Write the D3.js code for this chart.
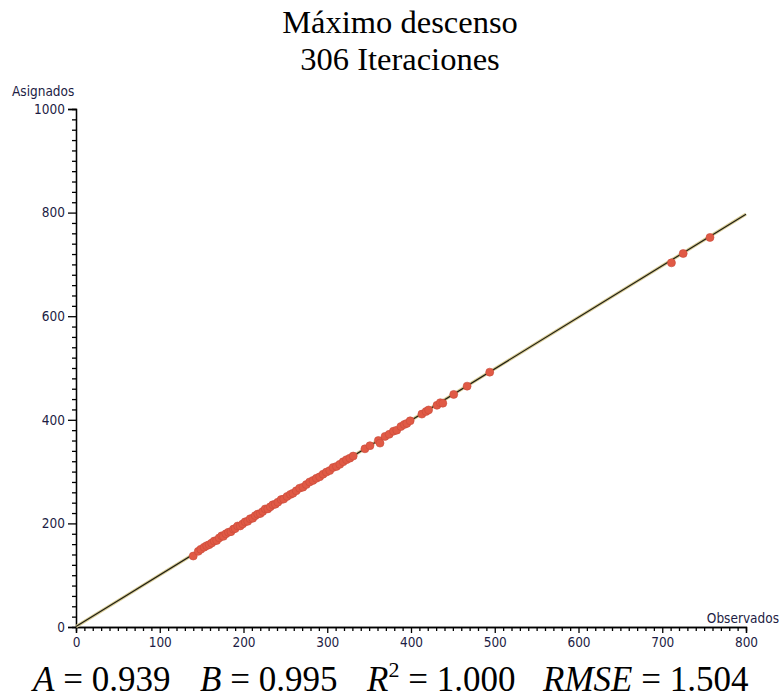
<!DOCTYPE html>
<html>
<head>
<meta charset="utf-8">
<script src="https://cdn.jsdelivr.net/npm/d3@7"></script>
<style>
  body { margin: 0; background: #fff; }
  svg { display: block; }
</style>
</head>
<body>
<svg id="chart" width="781" height="700"></svg>
<script>
// ---------------------------------------------------------------------------
// Data
// ---------------------------------------------------------------------------
const observados = [140, 146, 149, 153, 156, 159, 162, 165, 168, 171, 174, 176, 179, 182, 185, 188,
  190, 193, 196, 199, 202, 205, 208, 211, 214, 217, 220, 223, 226, 229, 232, 235, 238, 241, 245, 248,
  252, 256, 259, 263, 267, 271, 275, 279, 283, 287, 291, 295, 299, 303, 307, 311, 315, 319, 323, 327,
  331, 345, 351, 361, 363, 369, 374, 379, 383, 388, 392, 395, 399, 413, 418, 421, 431, 435, 438, 451,
  467, 494, 711, 725, 757];
const asignados = [137, 146, 150, 154, 157, 159, 162, 166, 167, 172, 176, 175, 180, 183, 184, 189,
  190, 195, 195, 199, 203, 204, 209, 210, 215, 218, 219, 223, 228, 228, 232, 236, 237, 241, 246, 247,
  252, 256, 258, 263, 268, 270, 275, 280, 283, 287, 290, 295, 299, 302, 308, 310, 314, 319, 323, 326,
  330, 344, 350, 360, 355, 368, 372, 378, 380, 387, 391, 393, 398, 411, 416, 419, 428, 433, 432, 449,
  465, 492, 703, 721, 752];

// fitted line  y = A + B x
const coefA = 0.939;
const coefB = 0.995;
const lineX = [0, 800];

const xMajor = [0, 100, 200, 300, 400, 500, 600, 700, 800];
const yMajor = [0, 200, 400, 600, 800, 1000];

const titleLines = ['Máximo descenso', '306 Iteraciones'];

// statistics shown under the chart: italic symbol, superscript, value
const statNames = ['A', 'B', 'R', 'RMSE'];
const statSup = ['', '', '2', ''];
const statValues = ['0.939', '0.995', '1.000', '1.504'];

// ---------------------------------------------------------------------------
// Scales
// ---------------------------------------------------------------------------
const svg = d3.select('#chart');
const x = d3.scaleLinear().domain([0, 800]).range([76, 746]);
const y = d3.scaleLinear().domain([0, 1000]).range([627, 109]);

const tickFont = '"DejaVu Sans Condensed", "Liberation Sans Narrow", sans-serif';
const tickColor = '#1c1c44';
const serif = '"Liberation Serif", "DejaVu Serif", serif';

// ---------------------------------------------------------------------------
// Title
// ---------------------------------------------------------------------------
svg.append('g').selectAll('text')
  .data(titleLines)
  .join('text')
  .attr('x', 400)
  .attr('y', (d, i) => 33 + i * 37)
  .attr('text-anchor', 'middle')
  .attr('font-family', serif)
  .attr('font-size', 32.5)
  .attr('fill', '#000')
  .text(d => d);

// ---------------------------------------------------------------------------
// Axes (major + minor)
// ---------------------------------------------------------------------------
const minorX = d3.range(0, 801, 10).filter(v => v % 100 !== 0);
const minorY = d3.range(0, 1001, 20).filter(v => v % 200 !== 0);

const gx = svg.append('g').attr('transform', `translate(0,${y(0)})`);
gx.append('g').call(d3.axisBottom(x).tickValues(minorX).tickSize(4).tickFormat(''));
gx.append('g').call(d3.axisBottom(x).tickValues(xMajor).tickSize(6).tickPadding(4).tickFormat(d3.format('d')));

const gy = svg.append('g').attr('transform', `translate(${x(0)},0)`);
gy.append('g').call(d3.axisLeft(y).tickValues(minorY).tickSize(4).tickFormat(''));
gy.append('g').call(d3.axisLeft(y).tickValues(yMajor).tickSize(8).tickPadding(3).tickFormat(d3.format('d')));

svg.selectAll('.domain').attr('stroke', '#000').attr('stroke-width', 1.3);
svg.selectAll('.tick line').attr('stroke', '#000').attr('stroke-width', 1.3);
svg.selectAll('.tick text')
  .attr('font-family', tickFont)
  .attr('font-size', 13.5)
  .attr('fill', tickColor);

// axis titles
svg.append('text')
  .attr('x', 12).attr('y', 96)
  .attr('font-family', tickFont).attr('font-size', 13.5)
  .attr('fill', tickColor)
  .text('Asignados');
svg.append('text')
  .attr('x', 779).attr('y', 623)
  .attr('text-anchor', 'end')
  .attr('font-family', tickFont).attr('font-size', 13.5)
  .attr('fill', tickColor)
  .text('Observados');

// ---------------------------------------------------------------------------
// Fitted line
// ---------------------------------------------------------------------------
const fitLine = d3.line().x(d => x(d)).y(d => y(coefA + coefB * d));
svg.append('path').datum(lineX)
  .attr('d', fitLine)
  .attr('fill', 'none')
  .attr('stroke', '#d9cc95')
  .attr('stroke-width', 3.2);
svg.append('path').datum(lineX)
  .attr('d', fitLine)
  .attr('fill', 'none')
  .attr('stroke', '#1e1e14')
  .attr('stroke-width', 1.2);

// ---------------------------------------------------------------------------
// Points
// ---------------------------------------------------------------------------
svg.append('g').selectAll('circle')
  .data(observados.map((o, i) => [o, asignados[i]]))
  .join('circle')
  .attr('cx', d => x(d[0]))
  .attr('cy', d => y(d[1]))
  .attr('r', 4)
  .attr('fill', '#e05a45')
  .attr('stroke', '#c9493a')
  .attr('stroke-width', 0.6);

// ---------------------------------------------------------------------------
// Statistics line at the bottom
// ---------------------------------------------------------------------------
const statX = [33, 200, 367, 543];
const stats = svg.append('g').selectAll('text')
  .data(statNames)
  .join('text')
  .attr('x', (d, i) => statX[i])
  .attr('y', 691)
  .attr('font-family', serif)
  .attr('font-size', 35)
  .attr('fill', '#000');
stats.append('tspan').attr('font-style', 'italic').text(d => d);
stats.append('tspan')
  .attr('font-size', 22)
  .attr('dy', (d, i) => statSup[i] ? -14 : 0)
  .text((d, i) => statSup[i]);
stats.append('tspan')
  .attr('dy', (d, i) => statSup[i] ? 14 : 0)
  .text((d, i) => ' = ' + statValues[i]);
</script>
</body>
</html>
